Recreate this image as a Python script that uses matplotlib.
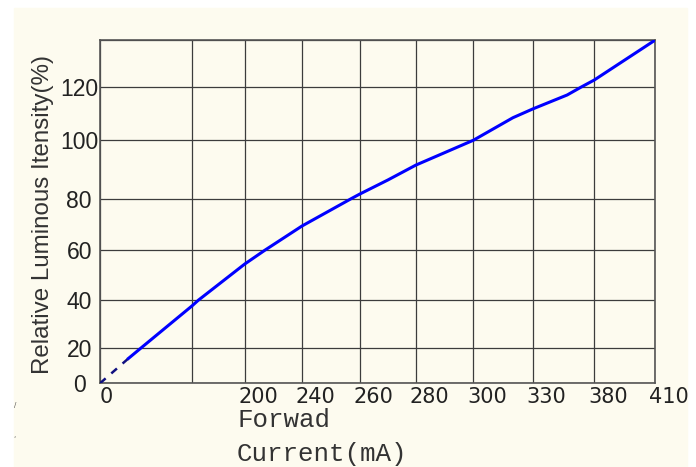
"""Relative luminous intensity vs forward current (CAD-style datasheet chart)."""

import numpy as np
import matplotlib
matplotlib.use("Agg")
from matplotlib import pyplot as plt
from matplotlib.patches import Rectangle

#-----------------------------------------------------------------------------
# Data
#-----------------------------------------------------------------------------

# gridline values (the drawing's axes are not linear)
x_grid_vals = [0, 100, 200, 240, 260, 280, 300, 330, 380, 410]
x_tick_labels = ['0', '', '200', '240', '260', '280', '300', '330', '380', '410']
y_grid_vals = [0, 20, 40, 60, 80, 100, 120, 140]
y_tick_labels = ['0', '20', '40', '60', '80', '100', '120', '']

# measured curve, forward current (mA) vs relative intensity (%)
dash_current = [0, 31]
dash_intensity = [0, 14]
current = [31, 45, 100, 112, 200, 214, 240, 257, 260, 270, 280, 300,
           320, 330, 358, 369, 380, 410]
intensity = [14, 20, 37.6, 40, 54.5, 60, 69.4, 80, 81.6, 86.4, 91.5, 100,
             108.5, 111.8, 117.1, 120, 123.1, 140]

# where each gridline sits along the axis (fraction of axis length)
x_break_pos = [0, 0.1655, 0.2606, 0.3636, 0.4679, 0.5689, 0.6725, 0.7791, 0.8902, 1]
y_break_pos = [0, 0.1037, 0.2418, 0.3874, 0.5377, 0.7081, 0.8622, 1]

#-----------------------------------------------------------------------------
# Plot
#-----------------------------------------------------------------------------

W, H = 696, 467
bg = '#FDFBEF'
grid_col = '#3c3c3c'

fig = plt.figure(figsize=(W/100, H/100), dpi=100, facecolor='white')
fig.patches.append(Rectangle((14/W, 0), (687-14)/W, (H-8)/H,
                             transform=fig.transFigure, color=bg, zorder=-10))

ax = fig.add_axes([100/W, (H-383.3)/H, 555.3/W, 343.3/H])
ax.set_facecolor(bg)

def piecewise(vals, pos):
    fwd = lambda v: np.interp(v, vals, pos)
    inv = lambda p: np.interp(p, pos, vals)
    return fwd, inv

ax.set_xscale('function', functions=piecewise(x_grid_vals, x_break_pos))
ax.set_yscale('function', functions=piecewise(y_grid_vals, y_break_pos))
ax.set_xlim(0, 410)
ax.set_ylim(0, 140)

ax.plot(dash_current, dash_intensity, color='#101080', lw=1.8,
        dashes=(3, 3), solid_capstyle='butt', zorder=3)
ax.plot(current, intensity, color='#0000FF', lw=2.2, zorder=3,
        solid_joinstyle='round')

ax.set_xticks(x_grid_vals)
ax.set_xticklabels(x_tick_labels, family='Liberation Sans Narrow',
                   fontsize=15, color='#222222')
ax.set_yticks(y_grid_vals)
ax.set_yticklabels(y_tick_labels, family='Liberation Sans',
                   fontsize=16.5, color='#222222', ha='center')
ax.tick_params(axis='x', length=0, pad=3)
ax.tick_params(axis='y', length=0, pad=15)
for lbl in ax.get_xticklabels():
    lbl.set_horizontalalignment('left')
    lbl.set_x(lbl.get_position()[0])
# shift x labels so they start just left of their gridline
from matplotlib.transforms import ScaledTranslation
for i, lbl in enumerate(ax.get_xticklabels()):
    dx = 0 if i == 0 else -6
    lbl.set_transform(lbl.get_transform() + ScaledTranslation(dx/100, 0, fig.dpi_scale_trans))

ax.grid(True, color=grid_col, lw=0.9)
ax.set_axisbelow(True)
for s in ax.spines.values():
    s.set_color('#555555')
    s.set_linewidth(1.2)

fig.text(43/W, 1 - 214/H, 'Relative Luminous Itensity(%)', rotation=90,
         ha='center', va='center', family='Liberation Sans', fontsize=17.4,
         color='#333333')
fig.text(237/W, 1 - 427/H, 'Forwad', ha='left', va='baseline',
         family='Liberation Mono', fontsize=18.6, color='#333333')
fig.text(237/W, 1 - 461/H, 'Current(mA)', ha='left', va='baseline',
         family='Liberation Mono', fontsize=18.6, color='#333333')

# stray marks at the left edge of the scan
fig.text(15/W, 1 - 405/H, '/', fontsize=5, color='#555555', ha='center', va='center')
fig.text(15/W, 1 - 435/H, ',', fontsize=5, color='#555555', ha='center', va='center')

fig.savefig('out.png', dpi=100, facecolor=fig.get_facecolor())
